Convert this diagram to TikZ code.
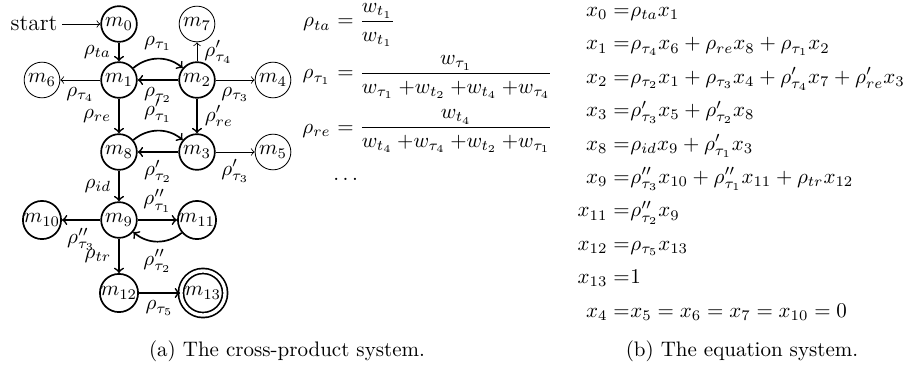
\documentclass[tikz,border=0pt]{standalone}
\usepackage{amsmath}
\begin{document}
\begin{tikzpicture}[x=0.47619pt,y=-0.47619pt,
  st/.style={circle,draw,thick,minimum size=17pt,inner sep=0pt},
  stthin/.style={circle,draw,thin,minimum size=17pt,inner sep=0pt},
  acc/.style={circle,draw,thick,double,double distance=1.6pt,minimum size=21pt,inner sep=0pt},
  tr/.style={->,thick},
  trthin/.style={->,thin}]
\useasboundingbox (0,0) rectangle (920,367);
% states
\node[st] (m0) at (119,24) {$m_0$};
\node[stthin] (m7) at (197,24) {$m_7$};
\node[stthin] (m6) at (42,80) {$m_6$};
\node[st] (m1) at (119,80) {$m_1$};
\node[st] (m2) at (197,80) {$m_2$};
\node[stthin] (m4) at (273,80) {$m_4$};
\node[st] (m8) at (119,152) {$m_8$};
\node[st] (m3) at (197,152) {$m_3$};
\node[stthin] (m5) at (273,152) {$m_5$};
\node[st] (m10) at (42,220) {$m_{10}$};
\node[st] (m9) at (119,220) {$m_9$};
\node[st] (m11) at (197,220) {$m_{11}$};
\node[st] (m12) at (119,293) {$m_{12}$};
\node[acc] (m13) at (203,293) {$m_{13}$};
\node[anchor=east,inner sep=2pt,font=\fontsize{11}{13}\selectfont] (start) at (62,24) {start};
% transitions
\draw[trthin] (start) -- (m0);
\draw[tr] (m0) -- node[left] {$\rho_{ta}$} (m1);
\draw[tr] (m1) to[bend left=40] node[above] {$\rho_{\tau_1}$} (m2);
\draw[tr] (m2) -- node[below] {$\rho_{\tau_2}$} (m1);
\draw[trthin] (m2) -- node[right] {$\rho'_{\tau_4}$} (m7);
\draw[trthin] (m1) -- node[below] {$\rho_{\tau_4}$} (m6);
\draw[trthin] (m2) -- node[below] {$\rho_{\tau_3}$} (m4);
\draw[tr] (m1) -- node[left] {$\rho_{re}$} (m8);
\draw[tr] (m2) -- node[right] {$\rho'_{re}$} (m3);
\draw[tr] (m8) to[bend left=40] node[above] {$\rho'_{\tau_1}$} (m3);
\draw[tr] (m3) -- node[below] {$\rho'_{\tau_2}$} (m8);
\draw[trthin] (m3) -- node[below] {$\rho'_{\tau_3}$} (m5);
\draw[tr] (m8) -- node[left] {$\rho_{id}$} (m9);
\draw[tr] (m9) -- node[above] {$\rho''_{\tau_1}$} (m11);
\draw[tr] (m11) to[bend left=40] node[below] {$\rho''_{\tau_2}$} (m9);
\draw[tr] (m9) -- node[below] {$\rho''_{\tau_3}$} (m10);
\draw[tr] (m9) -- node[left] {$\rho_{tr}$} (m12);
\draw[tr] (m12) -- node[below] {$\rho_{\tau_5}$} (m13);
% probabilities
\node[anchor=base east,inner sep=0pt] (pl1) at (331,27) {$\rho_{ta}$};
\node[anchor=base west,inner sep=0pt] (pr1) at (331,27) {$\displaystyle {}= \frac{w_{t_1}}{w_{t_1}}$};
\node[anchor=base east,inner sep=0pt] (pl2) at (331,79) {$\rho_{\tau_1}$};
\node[anchor=base west,inner sep=0pt] (pr2) at (331,79) {$\displaystyle {}= \frac{w_{\tau_1}}{w_{\tau_1}\:{+}w_{t_2}\:{+}w_{t_4}\:{+}w_{\tau_4}}$};
\node[anchor=base east,inner sep=0pt] (pl3) at (331,133) {$\rho_{re}$};
\node[anchor=base west,inner sep=0pt] (pr3) at (331,133) {$\displaystyle {}= \frac{w_{t_4}}{w_{t_4}\:{+}w_{\tau_4}\:{+}w_{t_2}\:{+}w_{\tau_1}}$};
\node[anchor=base west,inner sep=0pt] (pdots) at (333,180) {$\dots$};
% equation system
\node[anchor=base east,inner sep=0pt] (e0l) at (630,16.5) {$x_0 =$};
\node[anchor=base west,inner sep=0pt] (e0r) at (630,16.5) {$\rho_{ta}x_1$};
\node[anchor=base east,inner sep=0pt] (e1l) at (630,49.9) {$x_1 =$};
\node[anchor=base west,inner sep=0pt] (e1r) at (630,49.9) {$\rho_{\tau_4}x_6 + \rho_{re}x_8 + \rho_{\tau_1}x_2$};
\node[anchor=base east,inner sep=0pt] (e2l) at (630,83.3) {$x_2 =$};
\node[anchor=base west,inner sep=0pt] (e2r) at (630,83.3) {$\rho_{\tau_2}x_1 + \rho_{\tau_3}x_4 + \rho'_{\tau_4}x_7 + \rho'_{re}x_3$};
\node[anchor=base east,inner sep=0pt] (e3l) at (630,116.7) {$x_3 =$};
\node[anchor=base west,inner sep=0pt] (e3r) at (630,116.7) {$\rho'_{\tau_3}x_5 + \rho'_{\tau_2}x_8$};
\node[anchor=base east,inner sep=0pt] (e4l) at (630,150.1) {$x_8 =$};
\node[anchor=base west,inner sep=0pt] (e4r) at (630,150.1) {$\rho_{id}x_9 + \rho'_{\tau_1}x_3$};
\node[anchor=base east,inner sep=0pt] (e5l) at (630,183.5) {$x_9 =$};
\node[anchor=base west,inner sep=0pt] (e5r) at (630,183.5) {$\rho''_{\tau_3}x_{10} + \rho''_{\tau_1}x_{11} + \rho_{tr}x_{12}$};
\node[anchor=base east,inner sep=0pt] (e6l) at (630,216.9) {$x_{11} =$};
\node[anchor=base west,inner sep=0pt] (e6r) at (630,216.9) {$\rho''_{\tau_2}x_9$};
\node[anchor=base east,inner sep=0pt] (e7l) at (630,250.3) {$x_{12} =$};
\node[anchor=base west,inner sep=0pt] (e7r) at (630,250.3) {$\rho_{\tau_5}x_{13}$};
\node[anchor=base east,inner sep=0pt] (e8l) at (630,283.7) {$x_{13} =$};
\node[anchor=base west,inner sep=0pt] (e8r) at (630,283.7) {$1$};
\node[anchor=base east,inner sep=0pt] (e9l) at (630,317.1) {$x_4 =$};
\node[anchor=base west,inner sep=0pt] (e9r) at (630,317.1) {$x_5 = x_6 = x_7 = x_{10} = 0$};
% captions
\node[anchor=base,inner sep=0pt] (capa) at (287,356) {(a) The cross-product system.};
\node[anchor=base,inner sep=0pt] (capb) at (742,356) {(b) The equation system.};
\end{tikzpicture}
\end{document}
